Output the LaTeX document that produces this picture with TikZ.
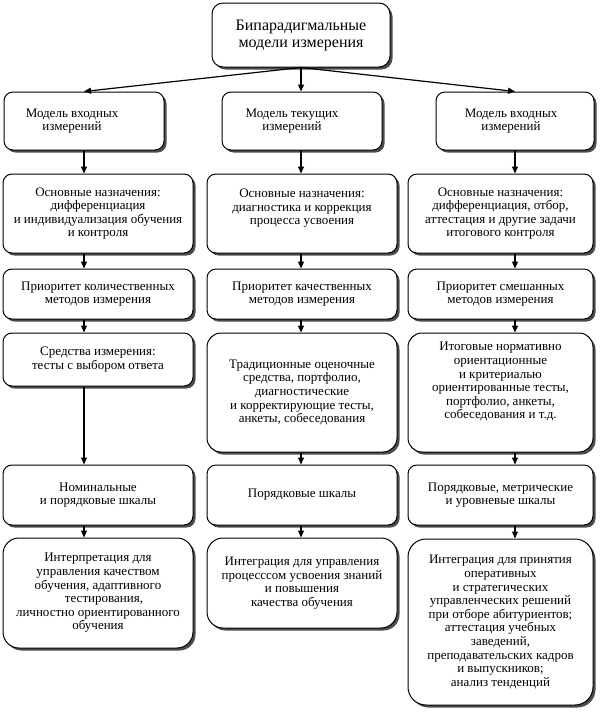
\documentclass[tikz,border=0pt]{standalone}
\usepackage{fontspec}
\setmainfont{Liberation Serif}
\usetikzlibrary{shadows,arrows.meta}
\begin{document}
\begin{tikzpicture}[x=1pt,y=-1pt,
  box/.style={draw, line width=1pt, rounded corners=9pt, fill=white, align=center,
    inner sep=2pt, font=\fontsize{13}{13.6}\selectfont,
    drop shadow={shadow xshift=2.5pt, shadow yshift=-2.5pt, fill=black!70, opacity=1}},
  arr/.style={-{Triangle[length=7pt,width=6pt]}, line width=1.2pt}]
\useasboundingbox (0,0) rectangle (600,715);
% top
\node[box, minimum width=178pt, minimum height=64pt, rounded corners=11pt,
  font=\fontsize{16}{17}\selectfont] (top) at (301,35) {Бипарадигмальные\\модели измерения};
% row 1
\node[box, minimum width=160pt, minimum height=58pt] (m1) at (84,121)
  {Модель входных\hspace*{24pt}\\измерений\hspace*{24pt}};
\node[box, minimum width=160pt, minimum height=58pt] (m2) at (302,121)
  {Модель текущих\hspace*{20pt}\\измерений\hspace*{20pt}};
\node[box, minimum width=158pt, minimum height=58pt] (m3) at (515,121)
  {Модель входных\hspace*{8pt}\\измерений\hspace*{8pt}};
% row 2
\node[box, minimum width=190pt, minimum height=79pt] (a1) at (98,213.5)
  {Основные назначения:\\дифференциация\\и индивидуализация обучения\\и контроля};
\node[box, minimum width=190pt, minimum height=79pt] (a2) at (302,213.5)
  {Основные назначения:\\диагностика и коррекция\\процесса усвоения\\\mbox{}};
\node[box, minimum width=185pt, minimum height=79pt] (a3) at (500.5,213.5)
  {Основные назначения:\\дифференциация, отбор,\\аттестация и другие задачи\\итогового контроля};
% row 3
\node[box, minimum width=190pt, minimum height=50pt] (b1) at (98,294)
  {Приоритет количественных\\методов измерения};
\node[box, minimum width=190pt, minimum height=50pt] (b2) at (302,294)
  {Приоритет качественных\\методов измерения};
\node[box, minimum width=185pt, minimum height=50pt] (b3) at (500.5,294)
  {Приоритет смешанных\\методов измерения};
% row 4
\node[box, minimum width=190pt, minimum height=53pt] (c1) at (98,359.5)
  {Средства измерения:\\тесты с выбором ответа};
\node[box, minimum width=190pt, minimum height=119pt, rounded corners=14pt] (c2) at (302,392.5)
  {Традиционные оценочные\\средства, портфолио,\\диагностические\\и корректирующие тесты,\\анкеты, собеседования};
\node[box, minimum width=185pt, minimum height=119pt, rounded corners=14pt] (c3) at (500.5,392.5)
  {Итоговые нормативно\\ориентационные\\и критериалью\\ориентированные тесты,\\портфолио, анкеты,\\собеседования и т.д.\\[10pt]\mbox{}};
% row 5
\node[box, minimum width=190pt, minimum height=60pt] (d1) at (98,495)
  {Номинальные\\и порядковые шкалы};
\node[box, minimum width=190pt, minimum height=60pt] (d2) at (302,495)
  {Порядковые шкалы};
\node[box, minimum width=185pt, minimum height=60pt] (d3) at (500.5,495)
  {Порядковые, метрические\\и уровневые шкалы};
% row 6
\node[box, minimum width=190pt, minimum height=110pt, rounded corners=16pt] (e1) at (98,593)
  {Интерпретация для\\управления качеством\\обучения, адаптивного\\\hspace*{12pt}тестирования,\\личностно ориентированного\\обучения};
\node[box, minimum width=190pt, minimum height=90pt, rounded corners=16pt] (e2) at (302,583)
  {Интеграция для управления\\процесссом усвоения знаний\\и повышения\\качества обучения};
\node[box, minimum width=185pt, minimum height=166pt, rounded corners=18pt] (e3) at (500.5,622)
  {Интеграция для принятия\\оперативных\\и стратегических\\управленческих решений\\при отборе абитуриентов;\\аттестация учебных\\заведений,\\преподавательских кадров\\и выпускников;\\анализ тенденций};
% connectors
\draw[arr] (top.south) -- (m1.north);
\draw[arr] (top.south) -- (top.south |- m2.north);
\draw[arr] (top.south) -- (m3.north);
\foreach \u/\v in {m1/a1,a1/b1,b1/c1,c1/d1,d1/e1}{
  \draw[arr] (\u.south -| m1.south) -- (\v.north -| m1.south);}
\foreach \u/\v in {m2/a2,a2/b2,b2/c2,c2/d2,d2/e2}{
  \draw[arr] (\u.south -| top.south) -- (\v.north -| top.south);}
\foreach \u/\v in {m3/a3,a3/b3,b3/c3,c3/d3,d3/e3}{
  \draw[arr] (\u.south -| m3.south) -- (\v.north -| m3.south);}
\end{tikzpicture}
\end{document}
